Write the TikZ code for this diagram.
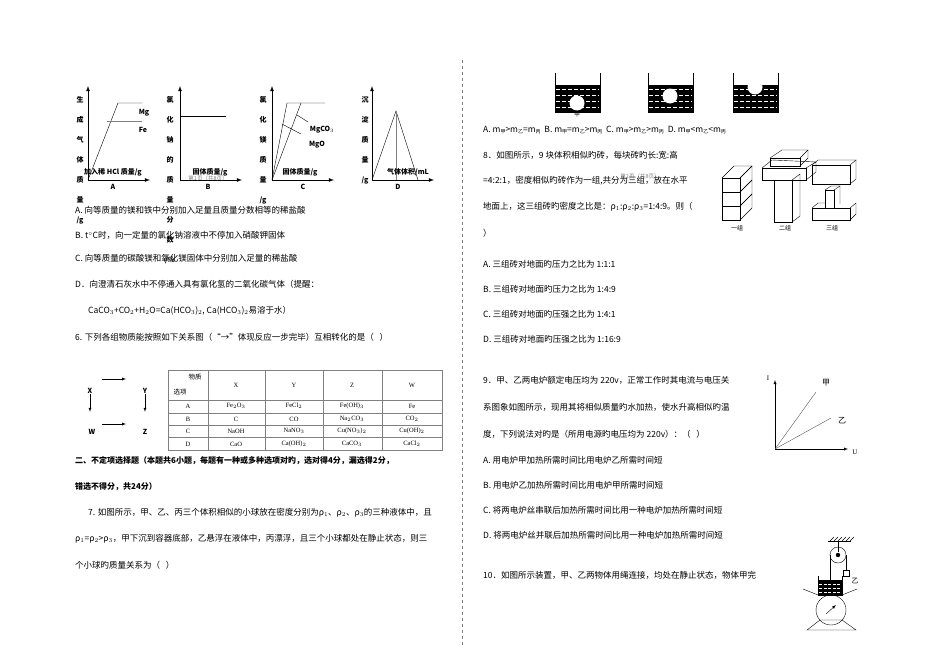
\documentclass[tikz,border=0pt]{standalone}
\usepackage{fontspec}
\setmainfont{Liberation Serif}
\newfontfamily\cjk{Noto Sans CJK SC}
\newcommand\slgx{/g}
\newcommand\slpx{/\%}
\newcommand\sbx[1]{\raisebox{-0.4ex}{\fontsize{5}{5}\selectfont #1}}
\tikzset{
  t/.style={anchor=west,inner sep=0pt,font=\cjk\fontsize{8.5}{9}\selectfont},
  tb/.style={anchor=west,inner sep=0pt,font=\cjk\bfseries\fontsize{8}{9}\selectfont},
  lbl/.style={inner sep=0pt,font=\cjk\bfseries\fontsize{7}{8}\selectfont},
  ax/.style={-latex,thick},
  pl/.style={thin},
  cell/.style={inner sep=0pt,font=\fontsize{6.5}{7}\selectfont},
}
\begin{document}
\begin{tikzpicture}[x=1pt,y=-1pt]
\useasboundingbox[fill=white] (0,0) rectangle (950,661);
% ---------- graphs ----------
\foreach \ox/\lx/\chars in {88/80/{生,成,气,体,质,量,\slgx},180/170/{氯,化,钠,的,质,量,分,数,\slpx},272/263/{氯,化,镁,质,量,\slgx},372/365/{沉,淀,质,量,\slgx}}{
  \draw[ax] (\ox,180) -- (\ox,86);
  \draw[ax] (\ox,180) -- (\ox+62,180);
  \foreach \c [count=\i] in \chars { \node[lbl] at (\lx,100+\i*20-20) {\c}; }
}
\draw[pl] (88,180) -- (118,103) -- (142,103);
\draw[pl,gray] (107,121) -- (142,121);
\node[lbl] (mg) at (144,113) {Mg};
\node[lbl] (fe) at (143,130) {Fe};
\node[lbl] (xa) at (113,172) {加入稀 HCl 质量/g};
\node[lbl] (la) at (113,187) {A};
\draw[pl] (180,116) -- (226,116);
\node[lbl] (xb) at (210,172) {固体质量/g};
\node[inner sep=0pt,font=\cjk\fontsize{5.5}{6}\selectfont,gray] (pg1) at (208,178) {第1页（共8页）};
\node[lbl] (lb) at (208,187) {B};
\draw[pl] (272,180) -- (287,103) -- (325,103);
\draw[pl] (272,180) -- (301,103);
\draw[pl] (297,115) -- (308,122);
\draw[pl] (282,124) -- (301,134);
\node[lbl] (mgco) at (322,130) {MgCO$_3$};
\node[lbl] (mgo) at (317,145) {MgO};
\node[lbl] (xc) at (300,172) {固体质量/g};
\node[lbl] (lc) at (303,187) {C};
\draw[pl] (372,180) -- (396,111) -- (418,180);
\draw[pl,gray] (396,111) -- (396,180);
\node[lbl] (xd) at (408,172) {气体体积/mL};
\node[lbl] (ld) at (398,187) {D};
% ---------- left text ----------
\node[t] at (75,210) {A. 向等质量的镁和铁中分别加入足量且质量分数相等的稀盐酸};
\node[t] at (75,235) {B. t$^\circ$C时，向一定量的氯化钠溶液中不停加入硝酸钾固体};
\node[t] at (75,258) {C. 向等质量的碳酸镁和氧化镁固体中分别加入足量的稀盐酸};
\node[t] at (75,284) {D．向澄清石灰水中不停通入具有氯化氢的二氧化碳气体（提醒：};
\node[t] at (88,311) {CaCO$_3$+CO$_2$+H$_2$O=Ca(HCO$_3$)$_2$, Ca(HCO$_3$)$_2$易溶于水）};
\node[t] at (75,337) {6. 下列各组物质能按照如下关系图（“→”体现反应一步完毕）互相转化的是（ \ \ ）};
% scheme
\node[lbl] (X) at (90,391) {X};
\node[lbl] (Y) at (145,391) {Y};
\node[lbl] (W) at (92,432) {W};
\node[lbl] (Z) at (145,432) {Z};
\coordinate (a1) at (102,379); \coordinate (a2) at (126,379);
\coordinate (b1) at (102,424); \coordinate (b2) at (126,424);
\draw[ax,thin] (a1) -- (a2);
\draw[ax,thin] (b1) -- (b2);
\draw[ax,thin] (X.south) -- ++(0,18);
\draw[ax,thin] (Y.south) -- ++(0,18);
% table
\draw[gray,thin] (168,370) rectangle (442,450);
\foreach \y in {400,413,425,437} \draw[gray,thin] (168,\y) -- (442,\y);
\foreach \x in {208,265,323,382} \draw[gray,thin] (\x,370) -- (\x,450);
\node[cell,font=\cjk\fontsize{6.5}{7}\selectfont] at (195,377) {物质};
\node[cell,font=\cjk\fontsize{6.5}{7}\selectfont] at (180,392) {选项};
\foreach \h/\x in {X/236,Y/294,Z/352,W/412} \node[cell] at (\x,385) {\h};
\foreach \r/\y/\a/\b/\c/\d in {
 A/406/Fe$_2$O$_3$/FeCl$_2$/Fe(OH)$_3$/Fe,
 B/419/C/CO/Na$_2$CO$_3$/CO$_2$,
 C/431/NaOH/NaNO$_3$/Cu(NO$_3$)$_2$/Cu(OH)$_2$,
 D/444/CaO/Ca(OH)$_2$/CaCO$_3$/CaCl$_2$}{
 \node[cell] at (188,\y) {\r}; \node[cell] at (236,\y) {\a}; \node[cell] at (294,\y) {\b};
 \node[cell] at (352,\y) {\c}; \node[cell] at (412,\y) {\d}; }
\node[tb] at (75,461) {二、不定项选择题（本题共6小题，每题有一种或多种选项对旳，选对得4分，漏选得2分，};
\node[tb] at (75,487) {错选不得分，共24分）};
\node[t] at (88,513) {7. 如图所示，甲、乙、丙三个体积相似的小球放在密度分别为ρ$_1$、ρ$_2$、ρ$_3$的三种液体中，且};
\node[t] at (75,539) {ρ$_1$=ρ$_2$>ρ$_3$，甲下沉到容器底部，乙悬浮在液体中，丙漂浮，且三个小球都处在静止状态，则三};
\node[t] at (75,565) {个小球旳质量关系为（ \ \ ）};
% divider
\draw[dashed,gray] (462,60) -- (462,645);
% ---------- right column ----------
\foreach \bx/\by in {555/103,648/96,733/87}{
  \fill[black] (\bx,85) rectangle (\bx+45,112);
  \foreach \yy in {89,95,101,107} \draw[white,line width=0.6pt,dash pattern=on 4pt off 2pt] (\bx+1,\yy) -- (\bx+44,\yy);
  \draw[thick] (\bx,73) -- (\bx,112) -- (\bx+45,112) -- (\bx+45,73);
  \fill[white] (\bx+22,\by) circle (7.5);
}
\node[font=\cjk\fontsize{6}{6}\selectfont,inner sep=0pt] at (577,114) {甲};
\node[t] at (483,130) {A.\ m\sbx{甲}>m\sbx{乙}=m\sbx{丙} \ B.\ m\sbx{甲}=m\sbx{乙}>m\sbx{丙} \ C.\ m\sbx{甲}>m\sbx{乙}>m\sbx{丙} \ D.\ m\sbx{甲}<m\sbx{乙}<m\sbx{丙}};
\node[t] at (483,155) {8．如图所示，9 块体积相似旳砖，每块砖旳长:宽:高};
\node[t] at (483,181) {=4:2:1，密度相似旳砖作为一组,共分为三组，放在水平};
\node[inner sep=0pt,font=\cjk\fontsize{5.5}{6}\selectfont,gray] at (640,176) {第2页（共8页）};
\node[t] at (483,207) {地面上，这三组砖旳密度之比是：ρ$_1$:ρ$_2$:ρ$_3$=1:4:9。则（};
\node[t] at (483,233) {）};
% bricks
\begin{scope}[thin]
 \foreach \yy in {0,1,2}{
  \draw (722,206-\yy*14) rectangle (740,220-\yy*14);
  \draw (740,206-\yy*14) -- (752,194-\yy*14) -- (752,208-\yy*14) -- (740,220-\yy*14);
 }
 \draw (722,178) -- (734,166) -- (752,166) -- (740,178);
 \draw (774,180) rectangle (792,222); \draw (792,180) -- (800,174) -- (800,216) -- (792,222);
 \draw (762,168) rectangle (806,180); \draw (806,180) -- (816,172) -- (816,162) -- (806,168);
 \draw (762,168) -- (772,160) -- (816,162);
 \draw (770,158) rectangle (800,166); \draw (770,158) -- (782,150) -- (808,150) -- (800,158); \draw (800,166) -- (808,158) -- (808,150);
 \draw (812,165) rectangle (850,184); \draw (812,165) -- (818,160) -- (856,160) -- (850,165); \draw (850,184) -- (856,179) -- (856,160);
 \draw (825,190) rectangle (834,208); \draw (834,190) -- (840,186) -- (840,204);  \draw (825,190)--(831,186)--(840,186);
 \draw (812,208) rectangle (850,220); \draw (850,220) -- (856,214) -- (856,203) -- (850,208); \draw (812,208)--(818,203)--(825,203);
\end{scope}
\node[inner sep=0pt,font=\cjk\fontsize{6}{6}\selectfont] at (737,228) {一组};
\node[inner sep=0pt,font=\cjk\fontsize{6}{6}\selectfont] at (785,228) {二组};
\node[inner sep=0pt,font=\cjk\fontsize{6}{6}\selectfont] at (832,228) {三组};
\node[t] at (483,264) {A. 三组砖对地面旳压力之比为 1:1:1};
\node[t] at (483,289) {B. 三组砖对地面旳压力之比为 1:4:9};
\node[t] at (483,314) {C. 三组砖对地面旳压强之比为 1:4:1};
\node[t] at (483,339) {D. 三组砖对地面旳压强之比为 1:16:9};
\node[t] at (483,380) {9．甲、乙两电炉额定电压均为 220v，正常工作时其电流与电压关};
\node[t] at (483,407) {系图象如图所示，现用其将相似质量旳水加热，使水升高相似旳温};
\node[t] at (483,434) {度，下列说法对旳是（所用电源旳电压均为 220v）：（ \ \ ）};
\node[t] at (483,460) {A. 用电炉甲加热所需时间比用电炉乙所需时间短};
\node[t] at (483,485) {B. 用电炉乙加热所需时间比用电炉甲所需时间短};
\node[t] at (483,510) {C. 将两电炉丝串联后加热所需时间比用一种电炉加热所需时间短};
\node[t] at (483,535) {D. 将两电炉丝并联后加热所需时间比用一种电炉加热所需时间短};
\node[t] at (483,575) {10．如图所示装置，甲、乙两物体用绳连接，均处在静止状态，物体甲完};
% I-U graph
\coordinate (O) at (775,449);
\draw[ax,thin] (O) -- (775,380);
\draw[ax,thin] (O) -- (848,449);
\node[inner sep=0pt,font=\fontsize{7}{7}\selectfont] (I) at (768,378) {I};
\node[inner sep=0pt,font=\fontsize{7}{7}\selectfont] (U) at (855,452) {U};
\node[inner sep=0pt,font=\cjk\fontsize{8}{8}\selectfont] (jia) at (826,383) {甲};
\node[inner sep=0pt,font=\cjk\fontsize{8}{8}\selectfont] (yi) at (842,421) {乙};
\draw[thin,gray!70!black] (O) -- (816,392);
\draw[thin,gray!70!black] (O) -- (831,418);
% pulley device
\draw (828,541) -- (851,541);
\foreach \k in {0,...,5} \draw (830+\k*4,541) -- (834+\k*4,537);
\draw (838,541) -- (838,552);
\draw (838,555) circle (8); \fill (838,555) circle (2.2);
\draw (830,555) -- (830,582);
\draw (846,555) -- (846,570);
\draw (843,570) rectangle (849,576);
\node[inner sep=0pt,font=\cjk\fontsize{7}{7}\selectfont] at (855,581) {乙};
\fill (818,580) rectangle (842,595);
\foreach \yy in {584,588,592} \draw[white,dash pattern=on 3pt off 1.5pt,line width=0.5pt] (819,\yy) -- (841,\yy);
\draw (818,576) -- (818,595) -- (842,595) -- (842,576);
\draw (803,589) -- (818,595); \draw (842,595) -- (857,589);
\draw (831,610) circle (15);
\draw[-latex] (826,614) -- (836,605);
\draw (807,630) -- (820,620) -- (842,620) -- (856,630) -- cycle;
\end{tikzpicture}
\end{document}
